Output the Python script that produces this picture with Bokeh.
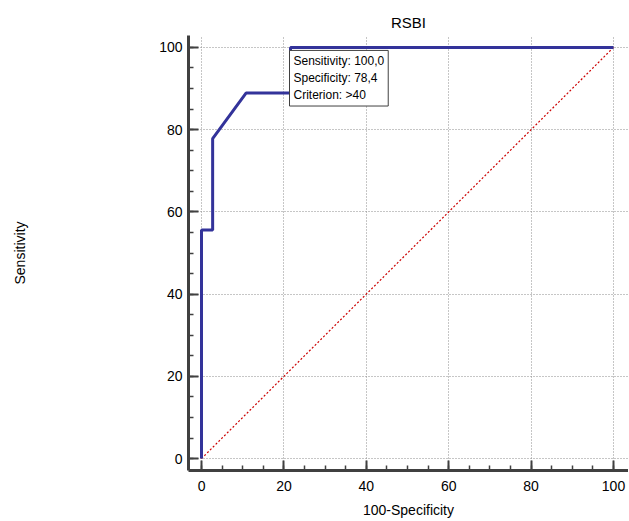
from bokeh.plotting import figure
from bokeh.models import SingleIntervalTicker, Label, Range1d
from bokeh.embed import file_html
from bokeh.resources import INLINE

# ROC curve points (100-Specificity, Sensitivity)
fpr = [0, 0, 2.7, 2.7, 10.8, 21.6, 21.6, 100]
tpr = [0, 55.6, 55.6, 77.8, 88.9, 88.9, 100, 100]
diag_x = [0, 100]
diag_y = [0, 100]
tip_x = 21.6
tip_y = 100
tip_lines = ["Sensitivity: 100,0", "Specificity: 78,4", "Criterion: >40"]

FONT = "Liberation Sans"

p = figure(width=628, height=520, output_backend="svg", toolbar_location=None,
           x_range=Range1d(-3.16, 103.64), y_range=Range1d(-2.9, 102.9),
           title="RSBI", min_border_left=188, min_border_right=0,
           min_border_top=35, min_border_bottom=48)
p.outline_line_color = None
p.background_fill_color = "white"
p.border_fill_color = "white"

p.title.align = "center"
p.title.text_font = FONT
p.title.text_font_size = "15px"
p.title.text_font_style = "normal"
p.title.text_color = "#000000"
p.title.standoff = 9

for ax in (p.xaxis[0], p.yaxis[0]):
    ax.ticker = SingleIntervalTicker(interval=20, num_minor_ticks=4)
    ax.axis_line_color = "#404040"
    ax.axis_line_width = 3
    ax.major_tick_line_color = "#404040"
    ax.major_tick_line_width = 2
    ax.major_tick_in = 10
    ax.major_tick_out = 0
    ax.minor_tick_line_color = "#404040"
    ax.minor_tick_line_width = 1.5
    ax.minor_tick_in = 5
    ax.minor_tick_out = 0
    ax.major_label_text_font = FONT
    ax.major_label_text_font_size = "14px"
    ax.major_label_text_color = "#000000"
    ax.axis_label_text_font = FONT
    ax.axis_label_text_font_size = "14px"
    ax.axis_label_text_font_style = "normal"
    ax.axis_label_text_color = "#000000"

p.xaxis.axis_label = "100-Specificity"
p.yaxis.axis_label = "Sensitivity"
p.xaxis.major_label_standoff = 10
p.xaxis.axis_label_standoff = 8
p.yaxis.major_label_standoff = 6
p.yaxis.axis_label_standoff = 128

for g in (p.xgrid[0], p.ygrid[0]):
    g.ticker = SingleIntervalTicker(interval=20)
    g.grid_line_color = "#8c8c8c"
    g.grid_line_dash = "1 2"
    g.grid_line_width = 1

p.line(diag_x, diag_y, line_color="#cc0000", line_width=1.2, line_dash="2 2")
p.line(fpr, tpr, line_color="#33339a", line_width=3)

lab = Label(x=tip_x, y=tip_y, x_offset=-1, y_offset=-3, text="\n".join(tip_lines),
            text_font=FONT, text_font_size="12px", text_color="#000000",
            text_align="left", text_baseline="top", text_line_height=1.2,
            background_fill_color="white", border_line_color="#404040",
            border_line_width=1, padding=4)
p.add_layout(lab)

open("out.html", "w").write(file_html(p, INLINE))
